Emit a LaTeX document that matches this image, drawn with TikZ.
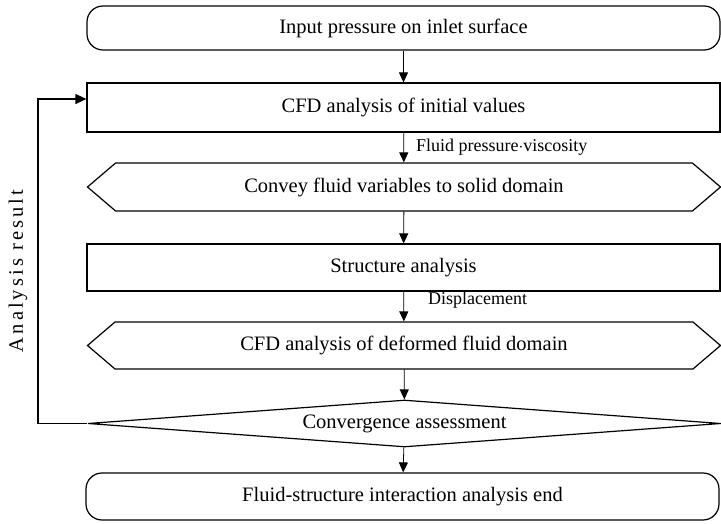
\documentclass[tikz,border=0pt]{standalone}
\usepackage{fontspec}
\setmainfont{Liberation Serif}
\usetikzlibrary{shapes.geometric, shapes.symbols, arrows.meta, calc}

\tikzset{
	every node/.style={font=\fontsize{20.5}{24}\selectfont},
	box/.style={draw, line width=1.2pt, minimum width=633pt, inner sep=0pt},
	termbox/.style={box, rounded corners=16pt},
	hexbox/.style={box, signal, signal to=west and east, signal pointer angle=81},
	assessbox/.style={draw, line width=1.2pt, diamond, aspect=13.5, minimum width=633pt, minimum height=47pt, inner sep=0pt},
	arr/.style={line width=0.8pt, -{Triangle[width=9pt,length=10pt]}},
	lbl/.style={font=\fontsize{18}{20}\selectfont, inner sep=0pt}
}

\begin{document}
\begin{tikzpicture}[x=1pt, y=1pt]

	\useasboundingbox (0,0) rectangle (721,523);

	\node[termbox, minimum height=44pt] (start) at (403.5,495) {Input pressure on inlet surface};
	\node[box, minimum height=49pt] (cfd) at (403.5,415.5) {CFD analysis of initial values};
	\node[hexbox, minimum height=48pt] (convey) at (404,336) {Convey fluid variables to solid domain};
	\node[box, minimum height=47pt] (struct) at (403.5,255.5) {Structure analysis};
	\node[hexbox, minimum height=47pt] (deform) at (404,177.5) {CFD analysis of deformed fluid domain};
	\node[assessbox] (assess) at (404.5,99.5) {Convergence assessment};
	\node[termbox, minimum height=47pt] (finish) at (402.5,26.5) {Fluid-structure interaction analysis end};

	% main line
	\draw[arr] (start) -- (cfd);
	\draw[arr] (cfd) -- node[lbl, anchor=west, xshift=12pt, pos=0.5] {Fluid pressure$\cdot$viscosity} (convey);
	\draw[arr] (convey) -- (struct);
	\draw[arr] (struct) -- node[lbl, anchor=west, xshift=24pt, pos=0.3] {Displacement} (deform);
	\draw[arr] (deform) -- (assess);
	\draw[arr] (assess) -- (finish);

	% feedback loop
	\coordinate (loopin) at ($(cfd.west)+(0,8.5)$);
	\draw[line width=1.2pt, -{Triangle[width=10pt,length=11pt]}] (assess.west) -- (38,99.5) -- (38,424) -- (loopin);
	\node[rotate=90] (result) at (18,252) {\addfontfeature{LetterSpace=15}Analysis result};

\end{tikzpicture}
\end{document}
